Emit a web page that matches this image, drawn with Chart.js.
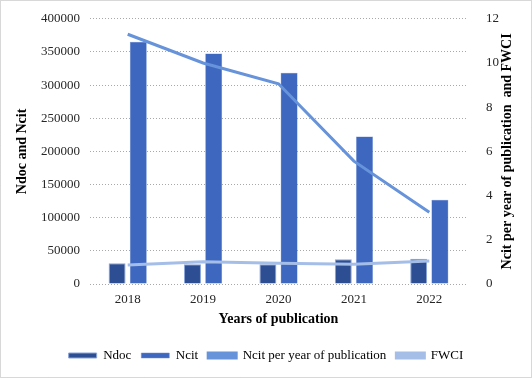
<!DOCTYPE html>
<html>
<head>
<meta charset="utf-8">
<script src="https://cdn.jsdelivr.net/npm/chart.js@4/dist/chart.umd.min.js"></script>
<style>
  html, body { margin: 0; padding: 0; background: #fff; }
  #wrap { width: 532px; height: 378px; position: relative; }
</style>
</head>
<body>
<div id="wrap"><canvas id="c" width="532" height="378"></canvas></div>
<script>
const years = ['2018', '2019', '2020', '2021', '2022'];
const ndoc = [31200, 29800, 29700, 37200, 38000];
const ncit = [365300, 347800, 318500, 222600, 127200];
const ncitPerYear = [11.3, 10.0, 9.06, 5.56, 3.25];
const fwci = [0.86, 1.01, 0.94, 0.89, 1.04];

const FONT = "'Liberation Serif', 'Times New Roman', serif";

const borderPlugin = {
  id: 'frame',
  afterDraw(chart) {
    const ctx = chart.ctx;
    ctx.save();
    ctx.strokeStyle = '#b0b0b0';
    ctx.lineWidth = 1;
    ctx.setLineDash([1, 1]);
    ctx.strokeRect(0.5, 0.5, 531, 377);
    ctx.restore();
  }
};

const rightTitle = {
  id: 'rightTitle',
  afterDraw(chart) {
    const ctx = chart.ctx;
    const a = chart.chartArea;
    ctx.save();
    ctx.translate(507, (a.top + a.bottom) / 2);
    ctx.rotate(-Math.PI / 2);
    ctx.font = 'bold 14px ' + FONT;
    ctx.fillStyle = '#000';
    ctx.textAlign = 'center';
    ctx.textBaseline = 'middle';
    ctx.fillText('Ncit per year of publication  and FWCI', 0, 0);
    ctx.restore();
  }
};

const noBorder = { display: false, width: 0, color: 'rgba(0,0,0,0)' };

new Chart(document.getElementById('c'), {
  data: {
    labels: years,
    datasets: [
      { type: 'bar', label: 'Ndoc', data: ndoc, yAxisID: 'y',
        backgroundColor: '#2D4E92', borderColor: '#8AA5DA', borderWidth: 1, order: 2,
        categoryPercentage: 0.5625, barPercentage: 0.8 },
      { type: 'bar', label: 'Ncit', data: ncit, yAxisID: 'y',
        backgroundColor: '#3E67C0', borderColor: '#6F8FD3', borderWidth: 0.5, order: 2,
        categoryPercentage: 0.5625, barPercentage: 0.8 },
      { type: 'line', label: 'Ncit per year of publication', data: ncitPerYear, yAxisID: 'y1',
        borderColor: '#6693D9', backgroundColor: '#6693D9', borderWidth: 3,
        pointRadius: 0, tension: 0, order: 1 },
      { type: 'line', label: 'FWCI', data: fwci, yAxisID: 'y1',
        borderColor: '#A5BEE8', backgroundColor: '#A5BEE8', borderWidth: 3,
        pointRadius: 0, tension: 0, order: 0 }
    ]
  },
  options: {
    responsive: false,
    animation: false,
    layout: { padding: { top: 14, left: 0, right: 0, bottom: 6 } },
    plugins: {
      legend: {
        position: 'bottom',
        labels: {
          font: { family: FONT, size: 13 },
          color: '#000',
          boxWidth: 28,
          boxHeight: 5,
          padding: 10,
          sort: (a, b) => a.datasetIndex - b.datasetIndex
        }
      },
      tooltip: { enabled: false }
    },
    scales: {
      x: {
        grid: { display: false },
        border: noBorder,
        ticks: { font: { family: FONT, size: 13 }, color: '#262626', padding: 0 },
        title: { display: true, text: 'Years of publication',
                 font: { family: FONT, size: 14, weight: 'bold' }, color: '#000',
                 padding: { top: 0, bottom: 11 } },
        afterFit(s) { s.height = 55; }
      },
      y: {
        position: 'left',
        min: 0, max: 400000,
        ticks: { stepSize: 50000, font: { family: FONT, size: 13 }, color: '#262626', padding: 10,
                 callback: (v) => String(v) },
        grid: { color: '#a8a8a8', drawTicks: false, lineWidth: 1 },
        border: { display: false, width: 0, color: 'rgba(0,0,0,0)', dash: [1, 2] },
        title: { display: true, text: 'Ndoc and Ncit',
                 font: { family: FONT, size: 14, weight: 'bold' }, color: '#000',
                 padding: { top: 14, bottom: 0 } },
        afterFit(s) { s.width = 90; }
      },
      y1: {
        position: 'right',
        min: 0, max: 12,
        ticks: { stepSize: 2, font: { family: FONT, size: 13 }, color: '#262626', padding: 11 },
        grid: { display: false },
        border: noBorder,
        afterFit(s) { s.width = 65; }
      }
    }
  },
  plugins: [borderPlugin, rightTitle]
});
</script>
</body>
</html>
